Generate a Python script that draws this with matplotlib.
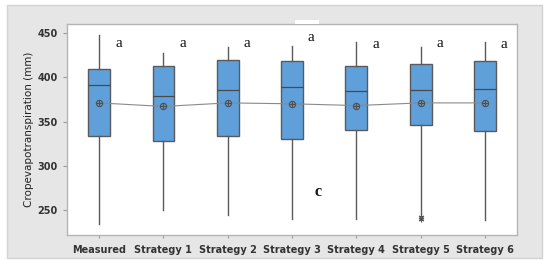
import matplotlib
matplotlib.use("Agg")
import matplotlib.pyplot as plt
from matplotlib.patches import FancyBboxPatch, Rectangle

categories = ["Measured", "Strategy 1", "Strategy 2", "Strategy 3", "Strategy 4", "Strategy 5", "Strategy 6"]
whisker_low = [234, 250, 244, 240, 240, 246, 239]
q1 = [334, 328, 333.5, 330, 341, 346.5, 339]
median = [391, 379, 385, 389.5, 384, 385, 387]
q3 = [409, 413, 419, 418, 413, 414.5, 418]
whisker_high = [448, 427, 433.5, 435, 440, 434, 440]
means = [371, 367, 371, 370, 368, 371, 371]
outliers = [[], [], [], [], [], [242.5, 240.5], []]
letters = ["a"] * 7
letter_y = [438, 438, 438, 445, 437, 438, 437]
yticks = [250, 300, 350, 400, 450]

fig = plt.figure(figsize=(5.5, 2.65), dpi=100)
fig.patch.set_facecolor("white")
bg = FancyBboxPatch((7 / 550, 7 / 265), 535 / 550, 253 / 265, boxstyle="square,pad=0",
                    transform=fig.transFigure, facecolor="#e6e6e6", edgecolor="#d2d2d2", lw=1.0, zorder=-10)
fig.patches.append(bg)
ax = fig.add_axes([67 / 550, 30 / 265, 450 / 550, 211 / 265])
ax.set_zorder(1)
ax.set_facecolor("white")

stats = []
for i in range(len(categories)):
    stats.append(dict(med=median[i], q1=q1[i], q3=q3[i], whislo=whisker_low[i],
                      whishi=whisker_high[i], fliers=outliers[i], label=categories[i]))
pos = list(range(len(categories)))
ax.bxp(stats, positions=pos, widths=0.34, patch_artist=True, showcaps=False,
       boxprops=dict(facecolor="#5fa0db", edgecolor="#5a5a5a", lw=1.0),
       medianprops=dict(color="#4a4a4a", lw=0.9),
       whiskerprops=dict(color="#5a5a5a", lw=1.0),
       flierprops=dict(marker=(6, 2, 0), markersize=4, markeredgecolor="#555555", lw=0, markeredgewidth=0.8))
ax.plot(pos, means, color="#8a8a8a", lw=0.8, zorder=3)
ax.plot(pos, means, ls="none", marker="o", markersize=4.5, markerfacecolor="none",
        markeredgecolor="#505050", markeredgewidth=0.8, zorder=4)
ax.plot(pos, means, ls="none", marker="+", markersize=4.5, markeredgecolor="#505050",
        markeredgewidth=0.8, zorder=4)

for i, t in enumerate(letters):
    ax.text(pos[i] + 0.30, letter_y[i], t, family="Liberation Serif", fontsize=11,
            ha="center", va="center", color="#111111")
ax.text(3.4, 270, "c", family="Liberation Serif", fontsize=11.5, fontweight="bold",
        ha="center", va="center", color="#111111")

ax.set_xlim(-0.5, 6.5)
ax.set_ylim(222, 460)
ax.set_yticks(yticks)
ax.set_xticks(pos)
ax.set_xticklabels(categories, fontsize=7, fontweight="bold", color="#333333")
ax.tick_params(axis="y", labelsize=7, labelcolor="#333333", colors="#9a9a9a", length=3, width=0.8)
for lbl in ax.get_yticklabels():
    lbl.set_fontweight("bold")
    lbl.set_color("#333333")
ax.tick_params(axis="x", colors="#9a9a9a", length=2, width=0.8, pad=5)
for lbl in ax.get_xticklabels():
    lbl.set_color("#333333")
ax.set_ylabel("Cropevapotranspiration (mm)", fontsize=7.5, color="#222222", labelpad=3)
for s in ax.spines.values():
    s.set_color("#b4b4b4")
    s.set_linewidth(1.0)

fig.patches.append(Rectangle((295 / 550, (265 - 24) / 265), 24 / 550, 4 / 265,
                             transform=fig.transFigure, facecolor="white", edgecolor="none", zorder=5))
fig.savefig("out.png", dpi=100)
